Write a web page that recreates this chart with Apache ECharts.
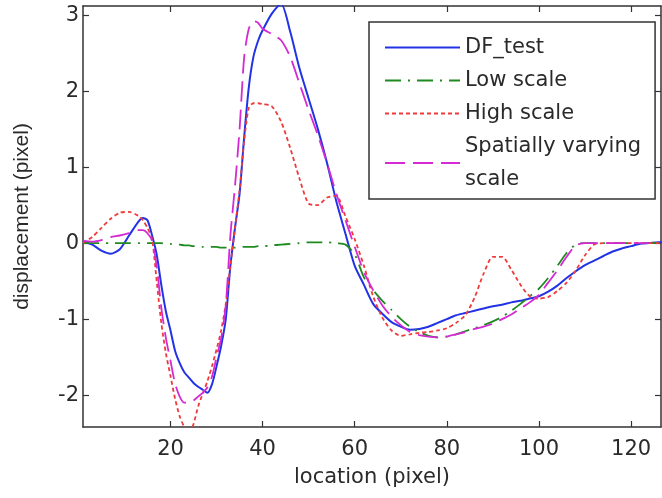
<!DOCTYPE html>
<html>
<head>
<meta charset="utf-8">
<script src="https://cdn.jsdelivr.net/npm/echarts@6/dist/echarts.min.js"></script>
<style>
  html, body { margin: 0; padding: 0; background: #ffffff; }
  #chart { width: 662px; height: 498px; }
</style>
</head>
<body>
<div id="chart"></div>
<script>
// Sample locations (pixel) shared by every curve
const locations = [1, 3, 5, 7, 9, 11, 13, 14, 15, 16, 17, 18, 19, 20, 21, 22, 23, 24, 25, 26,
  27, 28, 29, 30, 31, 32, 33, 34, 35, 36, 37, 38, 39, 40, 42, 44, 46, 48, 50, 52,
  54, 56, 58, 60, 62, 64, 66, 68, 70, 72, 74, 76, 78, 80, 82, 84, 86, 88, 90, 92,
  94, 96, 98, 100, 102, 104, 106, 108, 110, 112, 114, 116, 118, 120, 122, 124, 126, 128];

// Displacement (pixel) for each method
const dfTest = [0.02, -0.02, -0.1, -0.14, -0.08, 0.1, 0.28, 0.33, 0.3, 0.1, -0.15, -0.55, -0.9, -1.15, -1.42, -1.58, -1.7, -1.77, -1.84, -1.89,
  -1.93, -1.97, -1.86, -1.62, -1.35, -1.0, -0.3, 0.2, 0.65, 1.4, 2.05, 2.45, 2.66, 2.8, 3.02, 3.15, 2.78, 2.3, 1.9, 1.5,
  1.05, 0.55, 0.12, -0.3, -0.55, -0.8, -0.93, -1.04, -1.1, -1.14, -1.13, -1.1, -1.05, -1.0, -0.95, -0.92, -0.89, -0.86, -0.83, -0.81,
  -0.78, -0.76, -0.73, -0.7, -0.64, -0.56, -0.46, -0.37, -0.29, -0.23, -0.17, -0.11, -0.07, -0.04, -0.01, 0.0, 0.01, 0.01];

const lowScale = [0, 0, 0, 0, 0, 0, 0, 0, 0, 0, 0, 0, -0.01, -0.01, -0.02, -0.02, -0.03, -0.03, -0.04, -0.04,
  -0.05, -0.05, -0.05, -0.05, -0.06, -0.06, -0.06, -0.06, -0.05, -0.05, -0.05, -0.05, -0.04, -0.04, -0.03, -0.02, -0.01, 0.0, 0.01, 0.01,
  0.01, 0.0, -0.02, -0.15, -0.45, -0.62, -0.76, -0.88, -1.0, -1.1, -1.17, -1.22, -1.24, -1.23, -1.2, -1.16, -1.12, -1.08, -1.03, -0.97,
  -0.89, -0.8, -0.7, -0.6, -0.46, -0.3, -0.13, -0.02, 0, 0, 0, 0, 0, 0, 0, 0, 0, 0];

const highScale = [0.0, 0.08, 0.2, 0.32, 0.4, 0.41, 0.36, 0.3, 0.2, 0.05, -0.5, -1.05, -1.45, -1.75, -2.05, -2.28, -2.42, -2.5, -2.38, -2.15,
  -1.98, -1.82, -1.62, -1.4, -1.15, -0.8, -0.3, 0.2, 0.7, 1.35, 1.78, 1.84, 1.84, 1.83, 1.8, 1.6, 1.25, 0.85, 0.52, 0.5,
  0.6, 0.62, 0.35, 0.05, -0.3, -0.7, -0.98, -1.15, -1.22, -1.2, -1.18, -1.17, -1.15, -1.12, -1.05, -0.95, -0.72, -0.4, -0.18, -0.18,
  -0.35, -0.55, -0.7, -0.73, -0.71, -0.63, -0.52, -0.36, -0.16, -0.02, 0, 0, 0, 0, 0, 0, 0, 0];

const spatialScale = [0.03, 0.02, 0.04, 0.08, 0.1, 0.13, 0.17, 0.17, 0.13, 0.03, -0.3, -0.85, -1.25, -1.55, -1.85, -2.02, -2.1, -2.1, -2.07, -2.02,
  -1.97, -1.9, -1.76, -1.5, -1.25, -0.82, 0.1, 0.75, 1.5, 2.45, 2.82, 2.92, 2.9, 2.82, 2.75, 2.67, 2.45, 2.1, 1.75, 1.42,
  1.05, 0.65, 0.3, -0.05, -0.38, -0.62, -0.82, -0.97, -1.08, -1.17, -1.21, -1.23, -1.24, -1.23, -1.2, -1.17, -1.13, -1.1, -1.06, -1.0,
  -0.94, -0.86, -0.78, -0.68, -0.52, -0.36, -0.18, -0.03, 0, 0, 0, 0, 0, 0, 0, 0];

const seriesNames = ['DF_test', 'Low scale', 'High scale', 'Spatially varying\nscale'];
const xTicks = [20, 40, 60, 80, 100, 120];
const yTicks = [-2, -1, 0, 1, 2, 3];

const pairs = vals => locations.map((x, i) => [x, vals[i]]);

const textColor = '#2a2a2a';
const frameColor = '#333333';
const tickFont = { fontFamily: 'DejaVu Sans', fontSize: 21, color: textColor };
const tickLine = { color: frameColor, width: 1.2 };

function frameAxis(extra) {
  return Object.assign({
    type: 'value',
    splitLine: { show: false },
    axisLine: { show: true, onZero: false, lineStyle: { color: frameColor, width: 1.5 } }
  }, extra);
}

const lineSeries = (name, vals, color, type, width) => ({
  name: name,
  type: 'line',
  data: pairs(vals),
  showSymbol: false,
  symbol: 'none',
  smooth: 0.25,
  clip: true,
  lineStyle: { color: color, width: width, type: type },
  itemStyle: { color: color }
});

const chart = echarts.init(document.getElementById('chart'), null, { renderer: 'canvas' });
chart.setOption({
  backgroundColor: '#ffffff',
  animation: false,
  grid: { left: 83, right: 1, top: 6, bottom: 71 },
  legend: {
    left: 369,
    top: 22,
    orient: 'vertical',
    itemWidth: 75,
    itemHeight: 14,
    itemGap: 0,
    padding: [9, 14, 3, 15],
    borderColor: frameColor,
    borderWidth: 1.5,
    backgroundColor: '#ffffff',
    // keys show only the line style, no marker
    itemStyle: { opacity: 0, color: 'transparent', borderWidth: 0 },
    textStyle: { fontFamily: 'DejaVu Sans', fontSize: 21, color: textColor, lineHeight: 33 },
    data: seriesNames
  },
  xAxis: [
    frameAxis({
      position: 'bottom', min: 1, max: 126.5,
      name: 'location (pixel)', nameLocation: 'middle', nameGap: 40,
      nameTextStyle: { fontFamily: 'DejaVu Sans', fontSize: 21, color: textColor },
      axisTick: { show: true, inside: true, length: 6, customValues: xTicks, lineStyle: tickLine },
      axisLabel: Object.assign({ margin: 12, customValues: xTicks }, tickFont)
    }),
    frameAxis({
      position: 'top', min: 1, max: 126.5,
      axisTick: { show: true, inside: true, length: 6, customValues: xTicks, lineStyle: tickLine },
      axisLabel: { show: false }
    })
  ],
  yAxis: [
    frameAxis({
      position: 'left', min: -2.42, max: 3.12,
      name: 'displacement (pixel)', nameLocation: 'middle', nameGap: 50,
      nameTextStyle: { fontFamily: 'Liberation Sans', fontSize: 21, color: textColor },
      axisTick: { show: true, inside: true, length: 6, customValues: yTicks, lineStyle: tickLine },
      axisLabel: Object.assign({ margin: 4, customValues: yTicks }, tickFont)
    }),
    frameAxis({
      position: 'right', min: -2.42, max: 3.12,
      axisTick: { show: true, inside: true, length: 6, customValues: yTicks, lineStyle: tickLine },
      axisLabel: { show: false }
    })
  ],
  series: [
    lineSeries(seriesNames[0], dfTest, '#2233e6', 'solid', 2),
    lineSeries(seriesNames[1], lowScale, '#1f8a1f', [16, 7, 2, 7], 1.8),
    lineSeries(seriesNames[2], highScale, '#f03a3a', [4, 3], 1.8),
    lineSeries(seriesNames[3], spatialScale, '#d42ad4', [20, 8], 1.8)
  ]
});
</script>
</body>
</html>
